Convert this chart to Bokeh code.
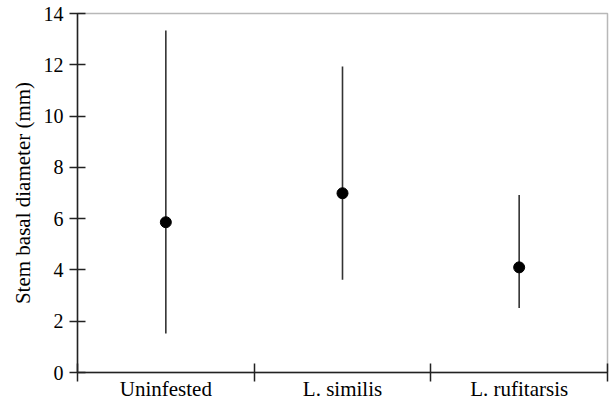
from bokeh.plotting import figure
from bokeh.models import Range1d, FixedTicker
from bokeh.embed import file_html
from bokeh.resources import INLINE

categories = ["Uninfested", "L. similis", "L. rufitarsis"]
means = [5.86, 6.99, 4.10]
lows = [1.52, 3.62, 2.52]
highs = [13.34, 11.93, 6.92]
y_ticks = [0, 2, 4, 6, 8, 10, 12, 14]

xs = [i + 0.5 for i in range(len(categories))]
bounds = [float(i) for i in range(len(categories) + 1)]

p = figure(width=611, height=403, output_backend="svg", toolbar_location=None,
           x_range=Range1d(0, len(categories)), y_range=Range1d(0, 14),
           min_border_left=77, min_border_top=13, min_border_right=4, min_border_bottom=31)

p.xgrid.visible = False
p.ygrid.visible = False
p.outline_line_color = "#b8b8b8"
p.outline_line_width = 1.5
p.background_fill_color = "white"
p.border_fill_color = "white"

font = "Liberation Serif"

# x axis
xa = p.xaxis[0]
xa.ticker = FixedTicker(ticks=xs, minor_ticks=bounds)
xa.major_label_overrides = {x: c for x, c in zip(xs, categories)}
xa.major_tick_in = 0
xa.major_tick_out = 0
xa.minor_tick_in = 9
xa.minor_tick_out = 9
xa.minor_tick_line_color = "#222222"
xa.minor_tick_line_width = 1.5
xa.axis_line_color = "#222222"
xa.axis_line_width = 1.5
xa.major_label_text_font = font
xa.major_label_text_font_size = "21px"
xa.major_label_text_color = "black"
xa.major_label_standoff = -5

# y axis
ya = p.yaxis[0]
ya.ticker = FixedTicker(ticks=y_ticks, minor_ticks=[])
ya.major_tick_in = 8
ya.major_tick_out = 8
ya.major_tick_line_color = "#222222"
ya.major_tick_line_width = 1.5
ya.axis_line_color = "#222222"
ya.axis_line_width = 1.5
ya.major_label_text_font = font
ya.major_label_text_font_size = "20px"
ya.major_label_text_color = "black"
ya.major_label_standoff = 6
ya.axis_label = "Stem basal diameter (mm)"
ya.axis_label_text_font = font
ya.axis_label_text_font_size = "21px"
ya.axis_label_text_font_style = "normal"
ya.axis_label_text_color = "black"
ya.axis_label_standoff = 6

p.segment(x0=xs, y0=lows, x1=xs, y1=highs, line_color="#333333", line_width=1.6)
p.scatter(x=xs, y=means, size=11, color="black")

open("out.html", "w").write(file_html(p, INLINE))
